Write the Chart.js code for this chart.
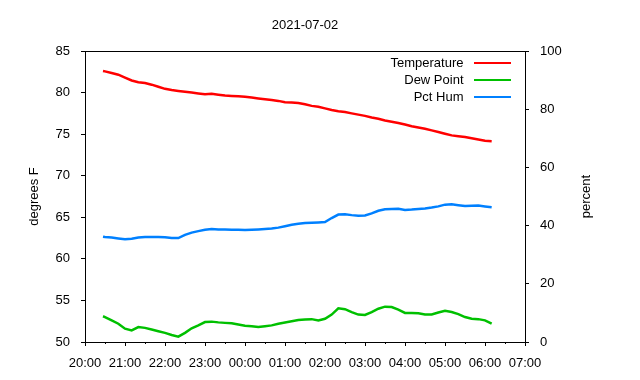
<!DOCTYPE html>
<html><head><meta charset="utf-8">
<script src="https://cdn.jsdelivr.net/npm/chart.js@4/dist/chart.umd.min.js"></script>
<style>html,body{margin:0;padding:0;background:#fff}#wrap{width:640px;height:380px}</style>
</head><body><div id="wrap"><canvas id="c" width="640" height="380"></canvas></div>
<script>
const chartTitle = "2021-07-02";
const leftAxisTitle = "degrees F";
const rightAxisTitle = "percent";
const xTickLabels = ["20:00","21:00","22:00","23:00","00:00","01:00","02:00","03:00","04:00","05:00","06:00","07:00"];
const seriesNames = ["Temperature","Dew Point","Pct Hum"];

const times = ["20:27","20:30","20:40","20:50","21:00","21:10","21:20","21:30","21:40","21:50",
  "22:00","22:10","22:20","22:30","22:40","22:50","23:00","23:10","23:20","23:30",
  "23:40","23:50","00:00","00:10","00:20","00:30","00:40","00:50","01:00","01:10",
  "01:20","01:30","01:40","01:50","02:00","02:10","02:20","02:30","02:40","02:50",
  "03:00","03:10","03:20","03:30","03:40","03:50","04:00","04:10","04:20","04:30",
  "04:40","04:50","05:00","05:10","05:20","05:30","05:40","05:50","06:00","06:10"];

const temperature = [82.6,82.55,82.35,82.15,81.8,81.45,81.25,81.15,80.95,80.7,
  80.45,80.3,80.2,80.1,80.0,79.9,79.8,79.85,79.75,79.65,
  79.6,79.55,79.5,79.4,79.3,79.2,79.1,79.0,78.85,78.8,
  78.75,78.6,78.4,78.3,78.1,77.9,77.75,77.65,77.5,77.35,
  77.2,77.0,76.85,76.65,76.5,76.35,76.15,75.95,75.8,75.65,
  75.45,75.25,75.05,74.85,74.75,74.65,74.5,74.35,74.2,74.15];

const dewPoint = [53.1,53.0,52.6,52.2,51.6,51.4,51.8,51.7,51.5,51.3,
  51.1,50.85,50.65,51.1,51.65,52.0,52.4,52.45,52.36,52.3,
  52.25,52.1,51.96,51.9,51.8,51.9,52.0,52.2,52.35,52.5,
  52.65,52.7,52.75,52.6,52.8,53.3,54.05,53.95,53.6,53.3,
  53.25,53.6,54.0,54.25,54.2,53.9,53.5,53.5,53.45,53.3,
  53.3,53.55,53.75,53.6,53.35,53.0,52.8,52.75,52.6,52.2];

const pctHum = [36.2,36.1,35.9,35.6,35.3,35.5,35.9,36.05,36.05,36.05,
  36.0,35.75,35.7,36.8,37.6,38.1,38.6,38.85,38.7,38.65,
  38.6,38.55,38.5,38.55,38.65,38.8,39.0,39.3,39.8,40.3,
  40.6,40.9,41.0,41.1,41.2,42.6,43.8,43.9,43.6,43.4,
  43.5,44.2,45.1,45.6,45.7,45.8,45.4,45.5,45.7,45.9,
  46.2,46.6,47.2,47.3,47.0,46.7,46.8,46.9,46.6,46.3];

function toMin(s){
  const [h,m] = s.split(":").map(Number);
  let v = h*60+m - 20*60;
  if (v < 0) v += 24*60;
  return v;
}
const xs = times.map(toMin);
const FONT = {family:"'Liberation Sans', Arial, sans-serif", size:13};
const FONTSTR = "13px 'Liberation Sans', Arial, sans-serif";
const colors = ["#ff0000","#00c000","#0080ff"];

const extras = {
  id:'extras',
  afterDraw(chart){
    const ctx = chart.ctx, a = chart.chartArea;
    ctx.save();
    ctx.strokeStyle = '#000'; ctx.lineWidth = 1;
    ctx.beginPath(); ctx.moveTo(a.left, a.top+0.5); ctx.lineTo(a.right, a.top+0.5); ctx.stroke();
    const xs_ = chart.scales.x;
    ctx.beginPath();
    for (let i=0;i<xTickLabels.length-1;i++){
      const px = Math.round(xs_.getPixelForValue(i*60+30))+0.5;
      ctx.moveTo(px, a.bottom); ctx.lineTo(px, a.bottom+2);
    }
    ctx.stroke();
    ctx.fillStyle = '#000'; ctx.font = FONTSTR;
    ctx.textAlign = 'center'; ctx.textBaseline = 'middle';
    ctx.fillText(chartTitle, (a.left+a.right)/2, 25);
    const cy = (a.top+a.bottom)/2;
    ctx.save(); ctx.translate(34, cy); ctx.rotate(-Math.PI/2); ctx.fillText(leftAxisTitle,0,0); ctx.restore();
    ctx.save(); ctx.translate(586, cy); ctx.rotate(-Math.PI/2); ctx.fillText(rightAxisTitle,0,0); ctx.restore();
    chart.data.datasets.forEach((ds,i)=>{
      const y = 63 + 17*i;
      ctx.textAlign = 'right'; ctx.fillStyle = '#000';
      ctx.fillText(ds.label, 463.5, y);
      ctx.strokeStyle = ds.borderColor; ctx.lineWidth = 2;
      ctx.beginPath(); ctx.moveTo(474, y); ctx.lineTo(511, y); ctx.stroke();
    });
    ctx.restore();
  }
};

const mk = (i, arr, axis) => ({
  label: seriesNames[i],
  data: xs.map((x,k)=>({x, y: arr[k]})),
  borderColor: colors[i], backgroundColor: colors[i],
  borderWidth: 2.5, pointRadius: 0, tension: 0, yAxisID: axis, fill:false
});

const axisCommon = {
  grid:{drawOnChartArea:false, color:'#000', tickLength:4, tickWidth:1},
  border:{color:'#000', width:1}
};

new Chart(document.getElementById('c').getContext('2d'), {
  type:'line',
  data:{datasets:[mk(0,temperature,'y'), mk(1,dewPoint,'y'), mk(2,pctHum,'y2')]},
  options:{
    responsive:false, animation:false, devicePixelRatio:1,
    layout:{padding:{top:51,left:0,right:0,bottom:0}},
    plugins:{legend:{display:false}, title:{display:false}, tooltip:{enabled:false}},
    scales:{
      x:{type:'linear', min:0, max:660, ...axisCommon,
        ticks:{stepSize:60, autoSkip:false, maxRotation:0, color:'#000', font:FONT, padding:10,
          callback:(v)=>{const i=Math.round(v/60); return xTickLabels[i] ?? '';}},
        afterFit:s=>{s.height=38;}},
      y:{type:'linear', position:'left', min:50, max:85, ...axisCommon,
        ticks:{stepSize:5, color:'#000', font:FONT, padding:11},
        afterFit:s=>{s.width=85;}},
      y2:{type:'linear', position:'right', min:0, max:100, ...axisCommon,
        ticks:{stepSize:20, color:'#000', font:FONT, padding:11},
        afterFit:s=>{s.width=115;}}
    }
  },
  plugins:[extras]
});
</script></body></html>
